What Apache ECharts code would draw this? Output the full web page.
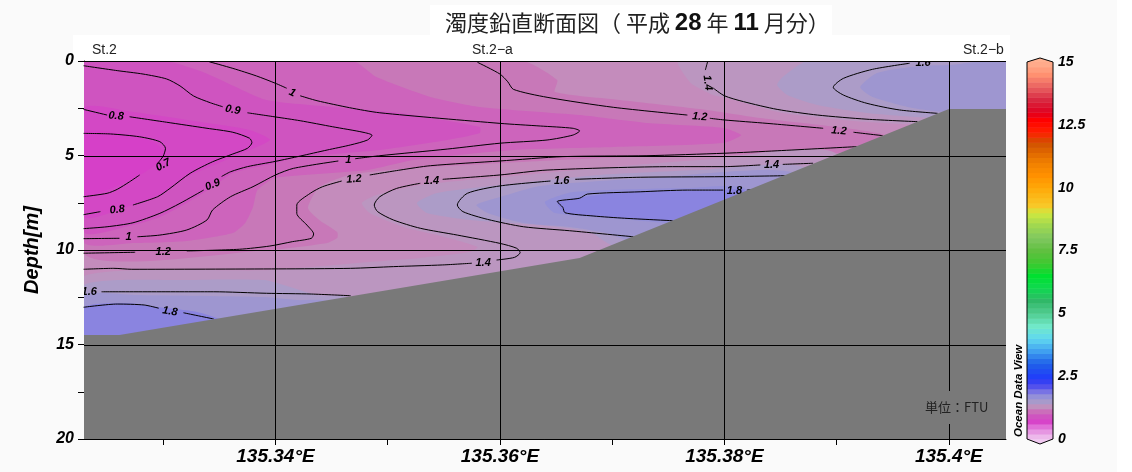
<!DOCTYPE html>
<html><head><meta charset="utf-8">
<style>html,body{margin:0;padding:0;background:#fafafa}#c{width:1132px;height:472px}</style>
<script src="https://cdn.jsdelivr.net/npm/echarts@6/dist/echarts.min.js"></script>
</head><body><div id="c"></div>
<script>
// ---- axes ----
const lonMin = 135.32294, lonMax = 135.40509;
const gridLons = [135.34, 135.36, 135.38, 135.40];
const tickLons = [135.33, 135.34, 135.35, 135.36, 135.37, 135.38, 135.39, 135.40];
const gridDepths = [0, 5, 10, 15];
const contourLevels = ['0.7', '0.8', '0.9', '1', '1.2', '1.4', '1.6', '1.8'];
// ---- contour lines, [lon, depth], null = gap at a label ----
const c07 = [[135.3229,3.83],[135.3253,3.86],[135.3279,4.01],[135.3297,4.27],[135.3302,4.62],[135.3300,5.03],[135.3295,5.41],null,
  [135.3279,6.03],[135.3270,6.39],[135.3259,6.79],[135.3250,7.0],[135.3229,7.18]];
const c08 = [[135.3229,2.56],[135.3250,2.86],null,[135.3270,2.95],[135.3303,3.24],[135.3339,3.56],[135.3362,3.77],[135.3377,4.09],[135.3379,4.32],[135.3375,4.62],
  [135.3362,4.92],[135.3344,5.33],[135.3324,5.94],[135.3306,6.74],[135.3295,7.18],[135.3273,7.62],null,[135.3244,7.97],[135.3229,8.13]];
const c09 = [[135.3229,0.25],[135.3259,0.51],[135.3282,0.69],[135.3303,0.95],[135.3315,1.32],[135.3327,1.85],[135.3342,2.21],[135.3353,2.42],null,
  [135.3375,2.74],[135.3400,2.96],[135.3422,3.16],[135.3451,3.48],[135.3478,3.77],[135.3486,3.93],[135.3482,4.18],[135.3467,4.44],[135.3446,4.71],[135.3422,5.03],
  [135.3400,5.31],[135.3375,5.59],[135.3360,5.86],[135.3352,6.11],null,[135.3336,6.83],[135.3315,7.53],[135.3297,8.06],[135.3273,8.56],[135.3250,8.77],[135.3229,8.87]];
const c10 = [[135.3341,0.04],[135.3362,0.39],[135.3383,0.79],[135.3400,1.18],[135.3410,1.44],null,[135.3422,1.84],[135.3437,2.1],[135.3466,2.47],[135.3493,2.74],
  [135.3600,3.3],[135.3636,3.44],[135.3665,3.56],[135.3671,3.7],[135.3665,3.92],[135.3642,4.18],[135.3600,4.35],[135.3553,4.66],[135.3493,5.01],[135.3471,5.17],null,
  [135.3456,5.29],[135.3416,5.68],[135.3400,6.03],[135.3380,6.65],[135.3360,7.18],[135.3344,7.88],[135.3339,8.41],[135.3321,8.94],[135.3297,9.21],[135.3277,9.3],null,
  [135.3261,9.38],[135.3229,9.4]];
const c12 = [[135.3580,0.07],[135.3600,0.69],[135.3607,1.1],[135.3612,1.5],[135.3642,1.92],[135.3701,2.45],[135.3767,2.86],null,[135.3787,3.03],[135.3800,3.12],
  [135.3838,3.3],[135.3888,3.56],null,[135.3915,3.77],[135.3941,3.95],null,
  [135.3918,4.53],[135.3847,4.75],[135.3800,4.88],[135.3731,5.01],[135.3656,5.06],[135.3600,5.29],[135.3538,5.54],[135.3511,5.77],[135.3484,6.03],null,
  [135.3459,6.35],[135.3442,6.65],[135.3431,7.0],[135.3419,7.62],[135.3419,8.06],[135.3428,8.68],[135.3434,9.15],[135.3432,9.38],[135.3415,9.56],[135.3395,9.79],
  [135.3368,9.96],[135.3321,10.05],null,[135.3275,10.12],[135.3229,10.17]];
const c14 = [[135.3785,0.04],[135.3783,0.48],null,[135.3790,1.43],[135.3800,1.84],[135.3817,2.15],[135.3847,2.56],[135.3883,2.86],[135.3927,3.08],[135.3972,3.21],null,
  [135.3879,5.41],[135.3852,5.47],null,[135.3832,5.5],[135.3799,5.59],[135.3754,5.59],[135.3642,5.77],[135.3600,6.03],[135.3549,6.26],null,
  [135.3529,6.47],[135.3508,6.74],[135.3493,7.18],[135.3488,7.62],[135.3491,7.97],[135.3505,8.41],[135.3529,8.85],[135.3562,9.21],[135.3600,9.65],[135.3615,9.91],
  [135.3618,10.14],[135.3613,10.39],[135.3597,10.53],null,[135.3575,10.7],[135.3549,10.79],[135.3505,10.88],[135.3467,10.97],[135.3403,11.0],[135.3272,11.02],[135.3256,10.97],[135.3229,11.02]];
const c16 = [[135.3965,0.12],[135.3932,0.44],[135.3906,0.92],[135.3897,1.39],[135.3906,1.8],[135.3927,2.24],[135.3956,2.59],[135.3990,2.77],null,
  [135.3854,6.07],[135.3799,6.12],[135.3725,6.15],[135.3667,6.26],null,[135.3645,6.35],[135.3600,6.61],[135.3571,7.0],[135.3562,7.62],[135.3567,7.97],[135.3589,8.38],
  [135.3621,8.77],[135.3662,8.98],[135.3719,9.3],null,[135.3245,12.21],[135.3345,12.21],[135.3392,12.29],[135.3432,12.33],[135.3467,12.42]];
const c18 = [[135.3229,13.03],[135.3259,12.86],[135.3283,12.91],[135.3296,13.08],null,[135.3318,13.32],[135.3345,13.65],null,
  [135.3820,6.83],[135.3826,6.8],null,[135.3799,6.83],[135.3767,6.83],[135.3725,6.92],[135.3678,7.04],[135.3671,7.26],[135.3651,7.44],[135.3656,7.74],[135.3658,8.03],
  [135.3683,8.2],[135.3711,8.32],[135.3754,8.45]];
// ---- contour labels: lon, depth, text, angle ----
const contourLabels = [
  [135.3300,5.5,'0.7',28],[135.3258,2.91,'0.8',-4],[135.3259,7.87,'0.8',6],[135.3362,2.59,'0.9',-10],[135.3344,6.55,'0.9',22],
  [135.3415,1.68,'1',-25],[135.3465,5.25,'1',0],[135.3269,9.32,'1',0],[135.3300,10.1,'1.2',0],[135.3470,6.25,'1.2',4],
  [135.3778,2.95,'1.2',-4],[135.3902,3.7,'1.2',-5],[135.3539,6.35,'1.4',0],[135.3585,10.7,'1.4',0],[135.3785,1.15,'1.4',-82],
  [135.3842,5.5,'1.4',0],[135.3655,6.35,'1.6',0],[135.3234,12.2,'1.6',0],[135.3977,0.1,'1.6',0],[135.3306,13.25,'1.8',-8],[135.3809,6.87,'1.8',0]];
// ---- bottom profile ----
const bottomLon = [135.32294,135.3261,135.3671,135.4000,135.40509,135.40509,135.32294];
const bottomDepth = [14.5,14.5,10.42,2.54,2.54,20,20];
// ---- turbidity bands: level and outline, painted in this order ----
const bandLevels = [1.25,1.15,1.05,0.9,0.8,0.72,1.35,1.45,1.6,1.35,1.45,1.6,1.7,1.8,1.45,1.6,1.8];
const bandField = [[135.32294,0],[135.40509,0],[135.40509,20],[135.32294,20]];
const band115 = [[135.32294,0],[135.3620,0],[135.3651,1.01],[135.3649,1.64],[135.3707,2.06],[135.3778,2.54],[135.3832,3.02],[135.3943,3.92],[135.3897,4.92],[135.3778,4.97],[135.3689,5.13],[135.3511,5.71],[135.3466,6.03],[135.3439,6.67],[135.3429,7.78],[135.3439,8.41],[135.3455,9.05],[135.3455,9.37],[135.3446,9.63],[135.3395,10],[135.32294,10.21]];
const band105 = [[135.32294,0],[135.3469,0],[135.3490,0.85],[135.3538,1.9],[135.3582,2.43],[135.3671,2.86],[135.3731,3.28],[135.3799,3.54],[135.3815,3.92],[135.3799,4.34],[135.3701,4.55],[135.3612,4.71],[135.3523,5.24],[135.3482,5.77],[135.3400,6.19],[135.3384,6.83],[135.3380,7.72],[135.3373,8.57],[135.3362,9.1],[135.3321,9.52],[135.3273,9.63],[135.32294,9.58]];
const band090 = [[135.32294,0],[135.3302,0],[135.3333,0.53],[135.3357,1.16],[135.3392,2.06],[135.3451,2.43],[135.3511,2.75],[135.3582,3.49],[135.3582,3.81],[135.3553,4.18],[135.3493,4.71],[135.3422,5.08],[135.3400,5.4],[135.3362,5.93],[135.3344,6.67],[135.3321,7.51],[135.3297,8.25],[135.3273,8.68],[135.32294,9.05]];
const band080 = [[135.32294,2.49],[135.3273,2.7],[135.3333,3.23],[135.3377,3.65],[135.3395,4.18],[135.3362,5.08],[135.3321,6.14],[135.3295,7.2],[135.3268,7.72],[135.32294,8.25]];
const band072 = [[135.32294,3.76],[135.3270,3.92],[135.3293,4.34],[135.3302,5.03],[135.3284,5.87],[135.3261,6.56],[135.32294,7.09]];
const bandTopA = [[135.3759,0],[135.3770,1.16],[135.3790,1.8],[135.3802,1.96],[135.3852,2.75],[135.3927,3.23],[135.3979,3.39],[135.40509,3.39],[135.40509,0]];
const bandTopB = [[135.3874,0],[135.3852,0.85],[135.3847,1.27],[135.3856,1.8],[135.3883,2.33],[135.3927,2.75],[135.3988,3.02],[135.40509,3.02],[135.40509,0]];
const bandTopC = [[135.40509,0.04],[135.4001,0.21],[135.3974,0.26],[135.3936,0.63],[135.3921,1.38],[135.3932,1.9],[135.3968,2.49],[135.3997,2.7],[135.40509,2.7]];
const bandMidA = [[135.3901,4.97],[135.3778,5.24],[135.3689,5.66],[135.3602,6.14],[135.3529,6.56],[135.3490,7.09],[135.3477,7.51],[135.3484,8.04],[135.3514,8.78],[135.3544,9.21],[135.3580,9.84],[135.3573,10.11],[135.3529,10.42],[135.3484,10.63],[135.3395,11.06],[135.32294,11.38],[135.32294,14.76],[135.3901,14.76]];
const bandMidB = [[135.3872,5.66],[135.3778,5.77],[135.3689,6.03],[135.3600,6.56],[135.3544,6.98],[135.3526,7.51],[135.3535,8.04],[135.3573,8.41],[135.3636,8.68],[135.3680,9.05],[135.3702,9.79],[135.3872,9.79]];
const bandMidC = [[135.3863,5.93],[135.3734,6.19],[135.3636,6.61],[135.3597,7.25],[135.3579,7.62],[135.3589,8.04],[135.3621,8.57],[135.3662,8.78],[135.3695,9.1],[135.3720,9.58],[135.3863,9.58]];
const bandMidD = [[135.3818,6.72],[135.3767,6.72],[135.3694,6.83],[135.3661,6.98],[135.3640,7.46],[135.3649,8.04],[135.3718,8.41],[135.3760,8.62],[135.3818,8.62]];
const bandMidE = [[135.3818,6.83],[135.3799,6.83],[135.3710,6.93],[135.3674,7.2],[135.3651,7.46],[135.3658,8.04],[135.3683,8.2],[135.3754,8.47],[135.3818,8.47]];
const bandLowB = [[135.32294,11.85],[135.3321,11.59],[135.3390,11.59],[135.3413,11.96],[135.3437,12.38],[135.3466,12.54],[135.3466,14.76],[135.32294,14.76]];
const bandLowC = [[135.32294,12.38],[135.3274,12.38],[135.3390,12.49],[135.3419,12.65],[135.3448,12.75],[135.3448,14.76],[135.32294,14.76]];
const bandLowD = [[135.32294,13.02],[135.3267,12.8],[135.3295,13.02],[135.3330,13.28],[135.3355,13.81],[135.3355,14.76],[135.32294,14.76]];
const bandShapes = [bandField,band115,band105,band090,band080,band072,bandTopA,bandTopB,bandTopC,bandMidA,bandMidB,bandMidC,bandMidD,bandMidE,bandLowB,bandLowC,bandLowD];
// ---- colour scale ----
const scaleLevels = [0,0.25,0.5,0.72,0.8,0.9,1.05,1.15,1.25,1.35,1.45,1.6,1.7,1.8,2.2,2.5,3,3.5,4,4.5,5,5.5,6,6.5,7,7.5,8,8.5,9,9.3,10,10.5,11,11.8,12.2,12.7,13,13.5,14,14.5,15];
const scaleColors = ['#f0c8f0','#e8a0e4','#e070d8','#d640c8','#d348c5','#cf54c0','#cd64bc','#c878b8','#c48cbc','#bb96c0','#ac9cc8','#9e96d0','#9490d8','#8a84e0','#4040f0','#2040f8','#2060e8','#40a0f0','#60d8f0','#70e8c8','#50cc90','#30b868','#10d850','#00e030','#40c830','#60c040','#80c860','#a0d850','#d0e840','#f8c828','#ffa808','#ff9000','#f08000','#d05000','#ff2000','#ff0000','#e00020','#d82840','#e86060','#ff9070','#ffb090'];
const barTicks = [0,2.5,5,7.5,10,12.5,15];

function colorOf(v){
  for(let i=0;i<scaleLevels.length-1;i++){
    if(v<=scaleLevels[i+1]){
      const t=(v-scaleLevels[i])/(scaleLevels[i+1]-scaleLevels[i]);
      return echarts.color.lerp(t,[scaleColors[i],scaleColors[i+1]]);
    }
  }
  return scaleColors[scaleColors.length-1];
}
function segments(arr){
  const out=[];let cur=[];
  arr.forEach(p=>{ if(p===null){out.push(cur);cur=[];} else cur.push(p); });
  out.push(cur);return out;
}
const chart = echarts.init(document.getElementById('c'));
const FONT = '"Liberation Sans",Arial,sans-serif';
const series = [];
// field bands
series.push({type:'custom',xAxisIndex:0,yAxisIndex:0,z:2,silent:true,clip:true,
  data:bandShapes.map((s,i)=>[i]),
  encode:{x:[],y:[]},
  renderItem(p,api){
    const i=api.value(0);
    return {type:'polygon',shape:{points:bandShapes[i].map(q=>api.coord(q)),smooth:i===0?0:0.2},style:{fill:colorOf(bandLevels[i])}};
  }});
// contours
[c07,c08,c09,c10,c12,c14,c16,c18].forEach((c,k)=>{
  segments(c).forEach(seg=>{
    series.push({type:'line',name:contourLevels[k],xAxisIndex:0,yAxisIndex:0,data:seg,z:3,silent:true,
      showSymbol:false,symbol:'none',smooth:0.25,clip:true,lineStyle:{color:'#000',width:1}});
  });
});
// bottom
series.push({type:'custom',xAxisIndex:0,yAxisIndex:0,z:4,silent:true,clip:true,
  data:[[0]],encode:{x:[],y:[]},
  renderItem(p,api){
    return {type:'polygon',shape:{points:bottomLon.map((l,i)=>api.coord([l,bottomDepth[i]]))},style:{fill:'#797979'}};
  }});
// grid lines
series.push({type:'custom',xAxisIndex:0,yAxisIndex:0,z:5,silent:true,clip:false,
  data:gridLons.map(l=>[l,0]).concat(gridDepths.map(d=>[null,d])),encode:{x:[],y:[]},
  renderItem(p,api){
    const lon=api.value(0),dep=api.value(1);let a,b;
    if(!isNaN(lon)&&lon>0){a=api.coord([lon,0]);b=api.coord([lon,20]);
      const x=Math.round(a[0])+0.5;a[0]=b[0]=x;}
    else{a=api.coord([lonMin,dep]);b=api.coord([lonMax,dep]);
      const y=Math.round(a[1])+0.5;a[1]=b[1]=y;}
    return {type:'line',shape:{x1:a[0],y1:a[1],x2:b[0],y2:b[1]},style:{stroke:'#000',lineWidth:1}};
  }});
// contour labels
series.push({type:'custom',xAxisIndex:0,yAxisIndex:0,z:6,silent:true,clip:true,
  data:contourLabels.map((l,i)=>[l[0],l[1],i]),encode:{x:0,y:1},
  renderItem(p,api){
    const l=contourLabels[api.value(2)];const c=api.coord([l[0],l[1]]);
    return {type:'text',x:c[0],y:c[1],rotation:l[3]*Math.PI/180,originX:0,originY:0,
      style:{text:l[2],font:'italic bold 11px '+FONT,fill:'#000',align:'center',verticalAlign:'middle'}};
  }});
// colour bar
const barFrom=[];for(let i=0;i<75;i++)barFrom.push(i*0.2);
series.push({type:'custom',xAxisIndex:1,yAxisIndex:1,z:2,silent:true,clip:false,
  data:barFrom.map(v=>[0,v]),encode:{x:0,y:1},
  renderItem(p,api){
    const v=api.value(1);const a=api.coord([0,v+0.2]),b=api.coord([1,v]);
    return {type:'rect',shape:{x:a[0],y:a[1],width:b[0]-a[0],height:b[1]-a[1]+0.5},style:{fill:colorOf(v+0.1)}};
  }});
series.push({type:'custom',xAxisIndex:1,yAxisIndex:1,z:3,silent:true,clip:false,
  data:[[0,0]],encode:{x:0,y:1},
  renderItem(p,api){
    const P=(x,y)=>api.coord([x,y]);
    return {type:'group',children:[
      {type:'polygon',shape:{points:[P(0,15),P(0.5,15.16),P(1,15)]},style:{fill:'#ffb090'}},
      {type:'polygon',shape:{points:[P(0,0),P(0.5,-0.2),P(1,0)]},style:{fill:'#f0c8f0'}},
      {type:'polygon',shape:{points:[P(0,0),P(0,15),P(0.5,15.16),P(1,15),P(1,0),P(0.5,-0.2)]},style:{fill:'none',stroke:'#000',lineWidth:1}}
    ]};
  }});

chart.setOption({
  animation:false,
  backgroundColor:'#fafafa',
  grid:[{left:84,right:126,top:61,bottom:33},{left:1027,width:26,top:62,bottom:33}],
  xAxis:[{type:'value',gridIndex:0,min:lonMin,max:lonMax,splitLine:{show:false},
      axisLine:{show:true,onZero:false,lineStyle:{color:'#000',width:1}},
      axisTick:{show:true,length:6,lineStyle:{color:'#000'},customValues:tickLons},
      axisLabel:{customValues:gridLons,color:'#000',margin:8,fontFamily:FONT,fontSize:19,fontWeight:'bold',fontStyle:'italic',
        formatter:v=>(+v.toFixed(2))+'°E',hideOverlap:false}},
    {type:'value',gridIndex:1,min:0,max:1,show:false}],
  yAxis:[{type:'value',gridIndex:0,min:0,max:20,interval:5,inverse:true,splitLine:{show:false},
      axisLine:{show:true,onZero:false,lineStyle:{color:'#000',width:1}},
      axisTick:{show:true,length:6,lineStyle:{color:'#000'}},
      minorTick:{show:true,splitNumber:2,length:6,lineStyle:{color:'#000'}},
      axisLabel:{color:'#000',margin:10,fontFamily:FONT,fontSize:16,fontWeight:'bold',fontStyle:'italic'},
      name:'Depth[m]',nameLocation:'middle',nameGap:42,
      nameTextStyle:{color:'#000',fontFamily:FONT,fontSize:20,fontWeight:'bold',fontStyle:'italic'}},
    {type:'value',gridIndex:1,min:0,max:15,interval:2.5,position:'right',splitLine:{show:false},
      axisLine:{show:false},axisTick:{show:false},
      axisLabel:{color:'#000',margin:5,fontFamily:FONT,fontSize:14,fontWeight:'bold',fontStyle:'italic',
        formatter:v=>String(v),customValues:barTicks}}],
  series,
  graphic:[
    {type:'rect',z:-1,silent:true,shape:{x:1117,y:0,width:15,height:472},style:{fill:'#fff'}},
    {type:'rect',z:-1,silent:true,shape:{x:73,y:35,width:937,height:26},style:{fill:'#fff'}},
    {type:'rect',z:-1,silent:true,shape:{x:430,y:5,width:402,height:30},style:{fill:'#fff'}},
    {type:'text',z:100,silent:true,x:445,y:11,style:{
      text:'{a|濁度鉛直断面図（ 平成 }{b|28}{a| 年 }{b|11}{a| 月分）}',
      rich:{a:{fontFamily:'"Noto Sans CJK JP"',fontSize:22,fill:'#222'},b:{fontFamily:FONT,fontSize:24,fontWeight:'bold',fill:'#111'}}}},
    {type:'text',z:100,silent:true,x:92,y:43,style:{text:'St.2',font:'14px '+FONT,fill:'#222'}},
    {type:'text',z:100,silent:true,x:472,y:43,style:{text:'St.2−a',font:'14px '+FONT,fill:'#222'}},
    {type:'text',z:100,silent:true,x:963,y:43,style:{text:'St.2−b',font:'14px '+FONT,fill:'#222'}},
    {type:'text',z:100,silent:true,x:921,y:391,style:{text:'単位：FTU',font:'13px "Noto Sans CJK JP"',fill:'#222',
      backgroundColor:'#797979',padding:[10,4,10,4]}},
    {type:'text',z:100,silent:true,x:1013,y:437,rotation:Math.PI/2,originX:0,originY:0,style:{text:'Ocean Data View',font:'italic bold 11.5px '+FONT,fill:'#000'}}
  ]
});
</script></body></html>
